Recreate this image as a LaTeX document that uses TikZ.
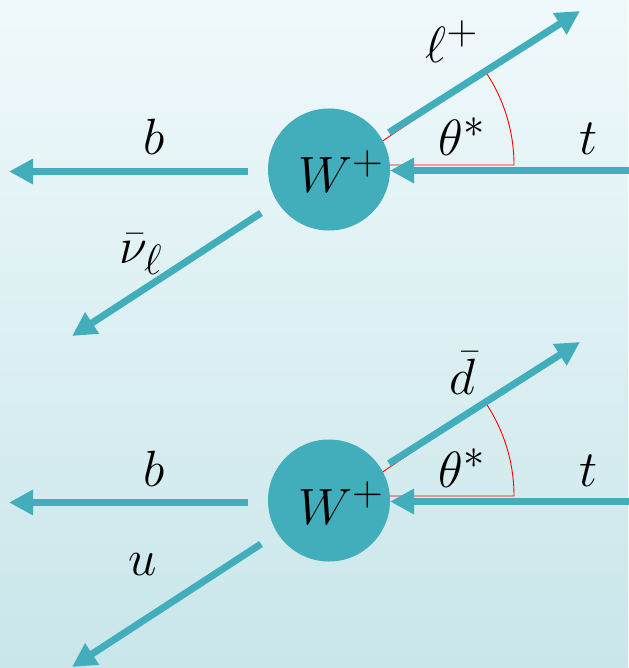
\documentclass[tikz,border=0pt]{standalone}
\usetikzlibrary{arrows.meta}
\definecolor{teal1}{RGB}{66,174,188}
\definecolor{bgtop}{RGB}{240,249,251}
\definecolor{bgbot}{RGB}{201,230,234}
\tikzset{
  arr/.style={draw=teal1,line width=7pt,-{Triangle[length=24pt,width=24pt]}},
  wcirc/.style={circle,fill=teal1,minimum size=122pt,inner sep=0pt},
  lab/.style={anchor=base,inner sep=0pt,font=\Huge,scale=2.05},
  angl/.style={draw=red,line width=0.9pt},
}
\begin{document}
\begin{tikzpicture}[x=1pt,y=-1pt]
\useasboundingbox (0,0) rectangle (628,668);
\fill[top color=bgtop,bottom color=bgbot] (0,0) rectangle (628,668);
\foreach \dy/\n in {0/1,331/2}{
\begin{scope}[yshift=-\dy pt]
  \coordinate (v\n) at (347,165);
  \coordinate (h\n) at (514,165);
  \draw[angl] (v\n) -- (h\n) arc[start angle=0,end angle=-34,radius=167] -- (v\n);
  \node[wcirc] (w\n) at (329,169.5) {};
  \coordinate (ts\n) at (640,170.5);
  \coordinate (te\n) at (390,170.5);
  \coordinate (bs\n) at (248,171.5);
  \coordinate (be\n) at (9,171.5);
  \coordinate (ns\n) at (261,213);
  \coordinate (ne\n) at (72,336);
  \coordinate (ls\n) at (389,132.5);
  \coordinate (le\n) at (580,11);
  \draw[arr] (ts\n) -- (te\n);
  \draw[arr] (bs\n) -- (be\n);
  \draw[arr] (ns\n) -- (ne\n);
  \draw[arr] (ls\n) -- (le\n);
  \node[lab] (wl\n) at (341,193) {$W^+$};
  \node[lab] (bl\n) at (154,155) {$b$};
  \node[lab] (tl\n) at (589,155) {$t$};
  \node[lab] (th\n) at (462,156) {$\theta^*$};
\end{scope}
}
\node[lab] (nul) at (141,263) {$\bar\nu_\ell$};
\node[lab] (lpl) at (452,63) {$\ell^+$};
\node[lab] (dbl) at (462,394) {$\bar d$};
\node[lab] (ul) at (143,575) {$u$};
\end{tikzpicture}
\end{document}
